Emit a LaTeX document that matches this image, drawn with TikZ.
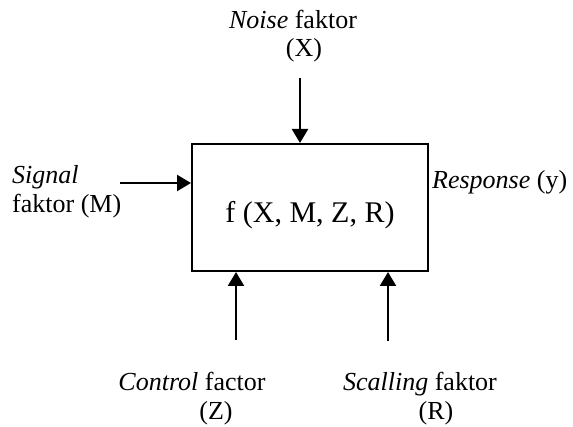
\documentclass[tikz,border=0pt]{standalone}
\usepackage{fontspec}
\setmainfont{Liberation Serif}
\usetikzlibrary{arrows.meta}
\tikzset{
  lbl/.style={inner sep=0pt, font=\fontsize{26}{30}\selectfont},
  mainbox/.style={draw, line width=2pt, minimum width=236pt, minimum height=127pt, inner sep=0pt},
  conn/.style={line width=2.4pt, -{Triangle[length=14pt,width=16pt]}}
}
\begin{document}
\begin{tikzpicture}[x=1pt,y=-1pt]
\useasboundingbox (0,0) rectangle (573,427);
\node[mainbox] (box) at (310,207.5) {};
\node[inner sep=0pt, anchor=base, font=\fontsize{30}{34}\selectfont] (f) at (310,223) {f (X, M, Z, R)};
% labels
\node[lbl, anchor=base] (noise1) at (293,29) {\textit{Noise} faktor};
\node[lbl, anchor=base] (noise2) at (304,57) {(X)};
\node[lbl, anchor=base west] (sig1) at (12,184) {\textit{Signal}};
\node[lbl, anchor=base west] (sig2) at (12,213) {faktor (M)};
\node[lbl, anchor=base west] (resp) at (432,189) {\textit{Response} (y)};
\node[lbl, anchor=base] (ctl1) at (192,391) {\textit{Control} factor};
\node[lbl, anchor=base] (ctl2) at (216,420) {(Z)};
\node[lbl, anchor=base] (sc1) at (420,391) {\textit{Scalling} faktor};
\node[lbl, anchor=base] (sc2) at (436,420) {(R)};
% arrow starts
\coordinate (nS) at (300,78);
\coordinate (sS) at (120,183);
\coordinate (cS) at (236,340);
\coordinate (rS) at (388,341);
\draw[conn] (nS) -- (nS |- box.north);
\draw[conn] (sS) -- (sS -| box.west);
\draw[conn] (cS) -- (cS |- box.south);
\draw[conn] (rS) -- (rS |- box.south);
\end{tikzpicture}
\end{document}
